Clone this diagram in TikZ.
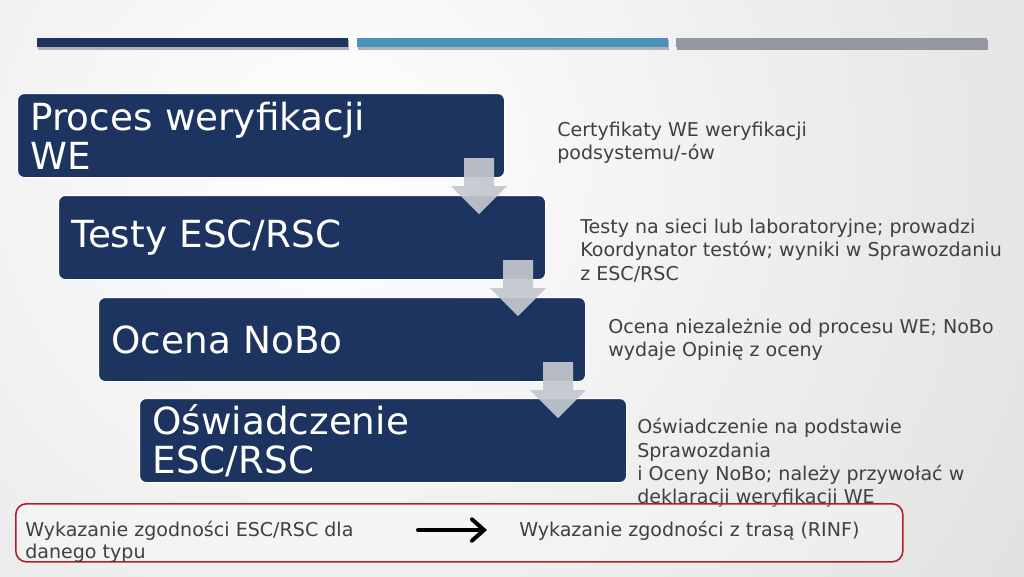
\documentclass[tikz,border=0pt]{standalone}
\usepackage{fontspec}
\setmainfont{DejaVu Sans}
\usetikzlibrary{calc,arrows.meta}
\definecolor{navy}{HTML}{1D3461}
\definecolor{barblue}{HTML}{4A90BB}
\definecolor{bargray}{HTML}{9398A0}
\definecolor{barshadow}{HTML}{7A7D84}
\definecolor{bggray}{HTML}{CFCFCF}
\definecolor{textgray}{HTML}{404040}
\definecolor{arrowc}{HTML}{C4C7CE}
\definecolor{redc}{HTML}{B0202A}
\newcommand{\stagearrow}[1]{\fill[arrowc, opacity=0.92] ($(#1)+(-15,0)$) -- ++(30,0) -- ++(0,28) -- ++(13,0) -- ++(-28,28) -- ++(-28,-28) -- ++(13,0) -- cycle;}
\begin{document}
\begin{tikzpicture}[x=0.75pt,y=-0.75pt,
  stage/.style={draw=white, line width=0.8pt, fill=navy, rounded corners=5pt, anchor=north west,
    minimum width=487*0.75pt, minimum height=84*0.75pt, text width=461*0.75pt,
    inner xsep=13*0.75pt, inner ysep=0pt, align=left, text=white,
    font=\fontsize{28}{29.5}\selectfont},
  sidetext/.style={anchor=north west, inner sep=0pt, align=left, text=textgray,
    font=\fontsize{14.3}{17.6}\selectfont},
  bottomtext/.style={anchor=north west, inner sep=0pt, align=left, text=textgray,
    font=\fontsize{14.3}{16.5}\selectfont}]
\useasboundingbox (0,0) rectangle (1024,576);
\begin{scope}
  \clip (0,0) rectangle (1024,576);
  \shade[inner color=white, outer color=bggray] (330,170) circle (975pt);
\end{scope}
% top bars
\fill[barshadow!60] (38,40) rectangle (349,49.5);
\fill[navy] (37,37.5) rectangle (348,46.5);
\fill[barshadow!60] (358,40) rectangle (669,49.5);
\fill[barblue] (357,37.5) rectangle (668,46.5);
\fill[barshadow!80] (677,40) rectangle (988,49.5);
\fill[bargray] (676,37.5) rectangle (987,46.5);
% stage boxes
\node[stage] (b1) at (17,93) {Proces weryfikacji\\WE};
\node[stage] (b2) at (58,195) {Testy ESC/RSC};
\node[stage] (b3) at (98,297) {Ocena NoBo};
\node[stage] (b4) at (139,398) {Oświadczenie\\ESC/RSC};
% block arrows
\coordinate (a1) at ($(b1.south east)+(-26,-20)$);
\coordinate (a2) at ($(b2.south east)+(-28,-20)$);
\coordinate (a3) at ($(b3.south east)+(-28,-20)$);
\stagearrow{a1}
\stagearrow{a2}
\stagearrow{a3}
% side texts
\node[sidetext] (t1) at (557,121.5) {Certyfikaty WE weryfikacji\\podsystemu/-ów};
\node[sidetext] (t2) at (580,218.5) {Testy na sieci lub laboratoryjne; prowadzi\\Koordynator testów; wyniki w Sprawozdaniu\\z ESC/RSC};
\node[sidetext] (t3) at (608,318.5) {Ocena niezależnie od procesu WE; NoBo\\wydaje Opinię z oceny};
\node[sidetext] (t4) at (637,418) {Oświadczenie na podstawie\\Sprawozdania\\i Oceny NoBo; należy przywołać w\\deklaracji weryfikacji WE};
% bottom summary
\node[draw=redc, line width=1.2pt, rounded corners=8pt, fill=white, fill opacity=0.3,
  anchor=north west, minimum width=887*0.75pt, minimum height=58*0.75pt] (summary) at (15,503) {};
\node[bottomtext] (left) at (25,520.5) {Wykazanie zgodności ESC/RSC dla\\danego typu};
\node[bottomtext] (right) at (519,520.5) {Wykazanie zgodności z trasą (RINF)};
\coordinate (arrs) at (418,530);
\coordinate (arre) at (487,530);
\draw[line width=3pt, line cap=round, -{Straight Barb[length=9pt,width=16pt,line cap=round]}] (arrs) -- (arre);
\end{tikzpicture}
\end{document}
